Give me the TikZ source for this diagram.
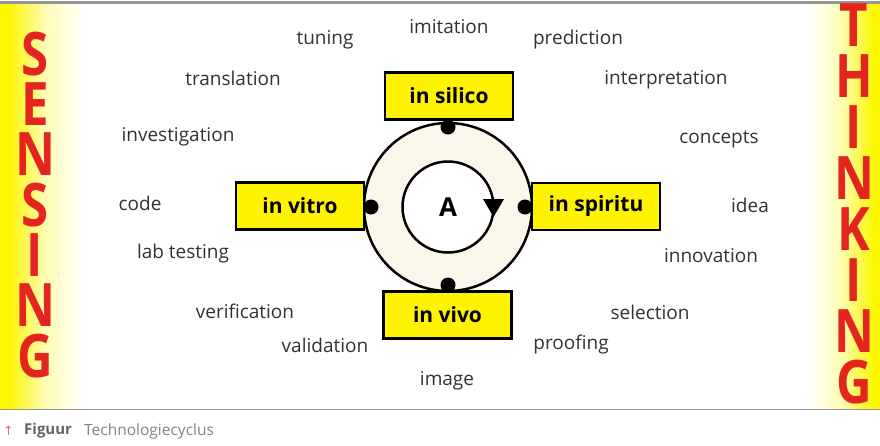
\documentclass[tikz,border=0pt]{standalone}
\usepackage{fontspec}
\setmainfont{Open Sans}
\newfontfamily\symfont{DejaVu Sans}
\definecolor{bandyellow}{RGB}{252,246,0}
\definecolor{boxyellow}{RGB}{255,243,0}
\definecolor{bigred}{RGB}{228,36,30}
\definecolor{wordgray}{RGB}{50,50,50}
\definecolor{cream}{RGB}{250,246,234}
\definecolor{rulegray}{RGB}{150,150,150}
\definecolor{capgray}{RGB}{100,100,100}
\definecolor{arrowpink}{RGB}{225,110,130}
\tikzset{
  bigword/.style={text=bigred, anchor=base, inner sep=0pt, align=center, xscale=0.82},
  word/.style={text=wordgray, font=\fontsize{19}{19}\selectfont, inner sep=0pt},
  labelbox/.style={draw=black, line width=2.5pt, fill=boxyellow, minimum width=128pt, minimum height=47pt, inner sep=0pt, font=\fontsize{21}{21}\selectfont\bfseries},
  joint/.style={circle, fill=black, minimum size=15pt, inner sep=0pt},
  ring/.style={circle, draw=black, line width=2.5pt, inner sep=0pt}
}
\begin{document}
\begin{tikzpicture}[x=1pt,y=-1pt]
\useasboundingbox (0,0) rectangle (880,445);
\fill[white] (0,0) rectangle (880,445);
% side bands
\fill[bandyellow] (0,4) rectangle (7,409);
\shade[left color=bandyellow, right color=white, middle color=bandyellow!30] (7,4) rectangle (84,409);
\shade[left color=white, right color=bandyellow, middle color=bandyellow!30] (808,4) rectangle (874,409);
\fill[bandyellow] (874,4) rectangle (880,409);
% rules
\draw[rulegray, line width=2.5pt] (0,2.5) -- (880,2.5);
\draw[rulegray, line width=1.8pt] (0,409.5) -- (880,409.5);
% SENSING / THINKING (anchor = baseline of the last line)
\node[bigword, font=\fontsize{60}{50.33}\selectfont\bfseries] (sensing) at (35,377) {S\\E\\N\\S\\I\\N\\G};
\node[bigword, font=\fontsize{60}{50.86}\selectfont\bfseries] (thinking) at (854,403) {T\\H\\I\\N\\K\\I\\N\\G};
% cycle
\node[ring, fill=cream, minimum size=168pt] (outer) at (448,207) {};
\node[ring, fill=white, minimum size=91pt] (inner) at (448,207) {};
\node[font=\fontsize{26}{26}\selectfont\bfseries, inner sep=0pt] (A) at (448,207) {A};
\fill[black] (483,199) -- (504,199) -- (493.5,217) -- cycle;
% joints
\node[joint] (jt) at (448,127) {};
\node[joint] (jl) at (371,207) {};
\node[joint] (jr) at (525,207) {};
\node[joint] (jb) at (448,285) {};
% boxes
\node[labelbox] (silico) at (449,96) {in silico};
\node[labelbox] (vitro) at (300,206) {in vitro};
\node[labelbox] (spiritu) at (596,206.5) {in spiritu};
\node[labelbox] (vivo) at (447.5,315) {in vivo};
% words
\node[word] (w1) at (325,40) {tuning};
\node[word] (w2) at (449,27) {imitation};
\node[word] (w3) at (578,40) {prediction};
\node[word] (w4) at (233,78) {translation};
\node[word] (w5) at (666,80) {interpretation};
\node[word] (w6) at (178,137) {investigation};
\node[word] (w7) at (719,140) {concepts};
\node[word] (w8) at (140,203) {code};
\node[word] (w9) at (750,205) {idea};
\node[word] (w10) at (183,254) {lab testing};
\node[word] (w11) at (711,256) {innovation};
\node[word] (w12) at (245,311) {verification};
\node[word] (w13) at (650,312) {selection};
\node[word] (w14) at (325,345) {validation};
\node[word] (w15) at (571,345) {proofing};
\node[word] (w16) at (447,381) {image};
% caption
\node[text=arrowpink, font=\symfont\fontsize{13}{13}\selectfont, inner sep=0pt] (cap0) at (8.5,431) {↑};
\node[anchor=west, text=capgray, font=\fontsize{15}{15}\selectfont\bfseries, inner sep=0pt] (cap1) at (24,431) {Figuur};
\node[anchor=west, text=capgray!80, font=\fontsize{15.5}{15.5}\selectfont, inner sep=0pt] (cap2) at (84,431) {Technologiecyclus};
\end{tikzpicture}
\end{document}
